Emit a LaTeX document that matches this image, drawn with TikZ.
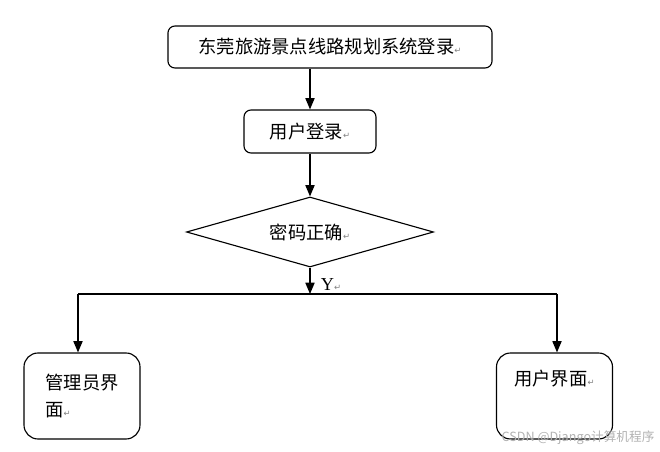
\documentclass[tikz,border=0pt]{standalone}
\usepackage{fontspec}
\setmainfont{Liberation Serif}
\newfontfamily\cjk{Noto Sans CJK SC}
\newfontfamily\symfont{DejaVu Sans}
\usetikzlibrary{arrows.meta,shapes.geometric}
% small return mark after each text, as in the source document
\newcommand{\parmark}{{\symfont\fontsize{6}{8}\selectfont\color{gray}↵}}

\begin{document}
\begin{tikzpicture}[x=0.025cm, y=-0.025cm,
  every node/.style={font=\cjk\fontsize{13}{19}\selectfont},
  box/.style={draw, line width=0.8pt, rounded corners=5pt, inner sep=0pt},
  pagebox/.style={draw, line width=0.8pt, rounded corners=10pt, inner sep=0pt,
    minimum width=2.9cm, minimum height=2.15cm, align=left},
  decision/.style={draw, diamond, shape aspect=3.5, line width=0.8pt, inner sep=0pt,
    minimum width=6.175cm, minimum height=1.75cm},
  flow/.style={line width=0.9pt, -{Triangle[length=8pt,width=6.5pt]}}]
  \useasboundingbox (0,0) rectangle (660,452);
  % login steps
  \node[box, minimum width=8.1cm, minimum height=1.05cm] (login) at (330,47)
    {东莞旅游景点线路规划系统登录\parmark};
  \node[box, minimum width=3.3cm, minimum height=1.075cm] (userlogin) at (310,131.5)
    {用户登录\parmark};
  \node[decision] (check) at (310,232) {密码正确\parmark};
  % branch to the two pages
  \coordinate (split) at (310,294);
  \coordinate (leftturn) at (78,294);
  \coordinate (rightturn) at (557,294);
  \node[pagebox] (admin) at (82,396) {管理员界\\面\parmark};
  \node[pagebox, align=center] (userui) at (554.5,396) {用户界面\parmark\\[7pt]~};
  \node[font=\rmfamily\fontsize{13}{16}\selectfont] (yes) at (331,285) {Y\parmark};
  \draw[flow] (userlogin.north |- login.south) -- (userlogin.north);
  \draw[flow] (userlogin.south) -- (check.north);
  \draw[flow] (check.south) -- (split);
  \draw[line width=0.9pt] (leftturn) -- (rightturn);
  \draw[flow] (leftturn) -- (leftturn |- admin.north);
  \draw[flow] (rightturn) -- (rightturn |- userui.north);
  % watermark
  \node[font=\cjk\fontsize{9}{10}\selectfont, text=gray!60] (mark) at (578,438)
    {CSDN @Django计算机程序};
\end{tikzpicture}
\end{document}
